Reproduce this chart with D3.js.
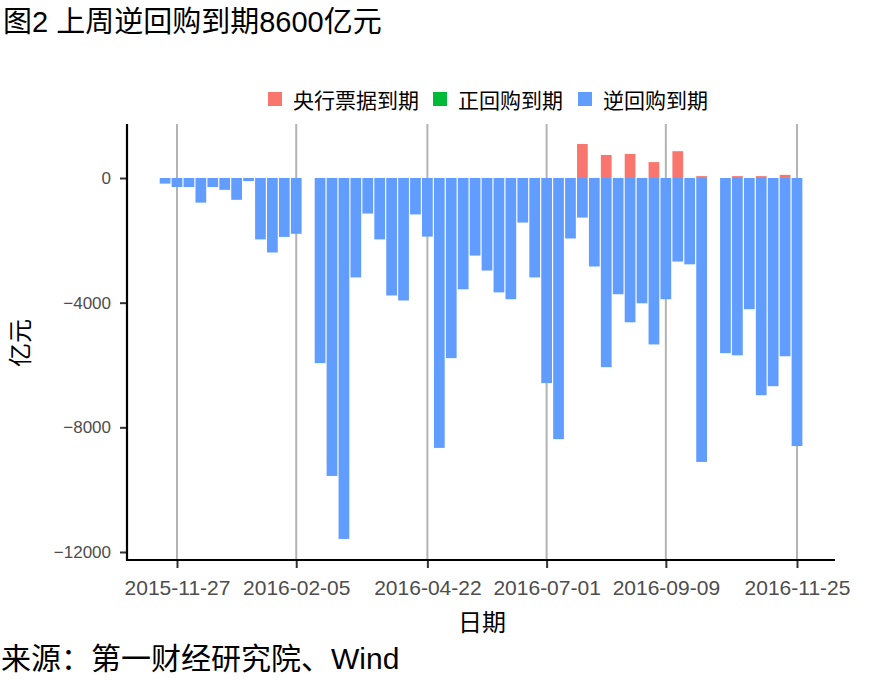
<!DOCTYPE html>
<html>
<head>
<meta charset="utf-8">
<script src="https://cdn.jsdelivr.net/npm/d3@7"></script>
<style>
  body { margin: 0; background: #fff; }
  text { font-family: "Liberation Sans", Arial, "Noto Sans CJK SC", sans-serif; }
</style>
</head>
<body>
<svg></svg>
<script>
const width = 885
const height = 688

// weekly maturity dates (no data for the holiday weeks 2016-02-12, 2016-10-07)
const dates = [
  '2015-11-20', '2015-11-27', '2015-12-04', '2015-12-11', '2015-12-18', '2015-12-25',
  '2016-01-01', '2016-01-08', '2016-01-15', '2016-01-22', '2016-01-29',
  '2016-02-05', '2016-02-19', '2016-02-26',
  '2016-03-04', '2016-03-11', '2016-03-18', '2016-03-25',
  '2016-04-01', '2016-04-08', '2016-04-15', '2016-04-22', '2016-04-29',
  '2016-05-06', '2016-05-13', '2016-05-20', '2016-05-27',
  '2016-06-03', '2016-06-10', '2016-06-17', '2016-06-24',
  '2016-07-01', '2016-07-08', '2016-07-15', '2016-07-22', '2016-07-29',
  '2016-08-05', '2016-08-12', '2016-08-19', '2016-08-26',
  '2016-09-02', '2016-09-09', '2016-09-16', '2016-09-23', '2016-09-30',
  '2016-10-14', '2016-10-21', '2016-10-28',
  '2016-11-04', '2016-11-11', '2016-11-18', '2016-11-25'
]

// 央行票据到期
const centralBills = [
  0, 0, 0, 0, 0, 0,
  0, 0, 0, 0, 0,
  0, 0, 0,
  0, 0, 0, 0,
  0, 0, 0, 0, 0,
  0, 0, 0, 0,
  0, 0, 0, 0,
  0, 0, 0, 1090, 0,
  740, 0, 770, 0,
  510, 0, 860, 0, 60,
  0, 60, 0,
  60, 0, 100, 0
]

// 正回购到期
const repos = dates.map(() => 0)

// 逆回购到期
const reverseRepos = [
  -180, -290, -290, -790, -290, -380,
  -700, -100, -1970, -2390, -1890,
  -1790, -5940, -9560,
  -11580, -3190, -1140, -1970,
  -3770, -3930, -1170, -1880, -8660,
  -5780, -3570, -2490, -2970,
  -3670, -3890, -1430, -3190,
  -6580, -8380, -1940, -1270, -2840,
  -6070, -3730, -4630, -4020,
  -5340, -3890, -2680, -2770, -9110,
  -5620, -5690, -4210,
  -6970, -6680, -5720, -8600
]

const seriesNames = ['央行票据到期', '正回购到期', '逆回购到期']
const seriesColors = ['#F8766D', '#00BA38', '#619CFF']
const xTickDates = ['2015-11-27', '2016-02-05', '2016-04-22', '2016-07-01', '2016-09-09', '2016-11-25']
const yTickValues = [0, -4000, -8000, -12000]

const parse = d3.timeParse('%Y-%m-%d')
const DAY = 24 * 3600 * 1000

const panel = { left: 127, right: 835, top: 124, bottom: 560 }

const svg = d3.select('svg').attr('width', width).attr('height', height)
svg.append('rect').attr('width', width).attr('height', height).attr('fill', '#fff')

const x = d3.scaleTime()
  .domain([parse('2015-11-27'), parse('2016-11-25')])
  .range([177, 797])

const y = d3.scaleLinear()
  .domain([-12000, 0])
  .range([552, 178])

const rows = dates.map((d, i) => ({
  date: parse(d),
  [seriesNames[0]]: centralBills[i],
  [seriesNames[1]]: repos[i],
  [seriesNames[2]]: reverseRepos[i]
}))

const stacked = d3.stack()
  .keys(seriesNames)
  .offset(d3.stackOffsetDiverging)(rows)

// vertical grid lines at the date ticks
svg.append('g')
  .selectAll('line')
  .data(xTickDates)
  .enter().append('line')
  .attr('x1', d => x(parse(d)))
  .attr('x2', d => x(parse(d)))
  .attr('y1', panel.top)
  .attr('y2', panel.bottom)
  .style('stroke', '#b3b3b3')
  .style('stroke-width', 2)

const barW = x(new Date(+parse('2016-01-01') + 6.3 * DAY)) - x(parse('2016-01-01'))

svg.append('g')
  .selectAll('g')
  .data(stacked)
  .enter().append('g')
  .attr('fill', (d, i) => seriesColors[i])
  .selectAll('rect')
  .data(d => d.filter(p => p[1] !== p[0]))
  .enter().append('rect')
  .attr('x', d => x(d.data.date) - barW / 2)
  .attr('width', barW)
  .attr('y', d => y(Math.max(d[0], d[1])))
  .attr('height', d => Math.abs(y(d[0]) - y(d[1])))

// axes
const xAxis = svg.append('g')
  .attr('transform', `translate(0,${panel.bottom})`)
  .call(d3.axisBottom(x)
    .tickValues(xTickDates.map(parse))
    .tickFormat(d3.timeFormat('%Y-%m-%d'))
    .tickSize(8)
    .tickPadding(12))
xAxis.select('.domain').remove()
xAxis.selectAll('.tick line').style('stroke', '#333').style('stroke-width', 2)
xAxis.selectAll('.tick text').style('font-size', '21px').style('fill', '#4d4d4d')

const yAxis = svg.append('g')
  .attr('transform', `translate(${panel.left},0)`)
  .call(d3.axisLeft(y)
    .tickValues(yTickValues)
    .tickFormat(d3.format('d'))
    .tickSize(7)
    .tickPadding(9))
yAxis.select('.domain').remove()
yAxis.selectAll('.tick line').style('stroke', '#333').style('stroke-width', 2)
yAxis.selectAll('.tick text').style('font-size', '17px').style('fill', '#4d4d4d')

svg.append('line')
  .attr('x1', panel.left).attr('x2', panel.left)
  .attr('y1', panel.top).attr('y2', panel.bottom + 1)
  .style('stroke', '#000').style('stroke-width', 2.2)
svg.append('line')
  .attr('x1', panel.left - 1).attr('x2', panel.right)
  .attr('y1', panel.bottom).attr('y2', panel.bottom)
  .style('stroke', '#000').style('stroke-width', 2.2)

// titles
svg.append('text')
  .attr('x', 3).attr('y', 32)
  .style('font-size', '29px')
  .text('图2 上周逆回购到期8600亿元')

svg.append('text')
  .attr('x', 482).attr('y', 631)
  .attr('text-anchor', 'middle')
  .style('font-size', '24px')
  .text('日期')

svg.append('text')
  .attr('transform', 'translate(29,343) rotate(-90)')
  .attr('text-anchor', 'middle')
  .style('font-size', '24px')
  .text('亿元')

svg.append('text')
  .attr('x', 1).attr('y', 669)
  .style('font-size', '30px')
  .text('来源：第一财经研究院、Wind')

// legend
const legendX = [268, 433, 578]
const legend = svg.append('g')
  .selectAll('g')
  .data(seriesNames)
  .enter().append('g')
  .attr('transform', (d, i) => `translate(${legendX[i]},92)`)
legend.append('rect')
  .attr('width', 14).attr('height', 14)
  .attr('fill', (d, i) => seriesColors[i])
legend.append('text')
  .attr('x', 25).attr('y', 16)
  .style('font-size', '21px')
  .text(d => d)
</script>
</body>
</html>
